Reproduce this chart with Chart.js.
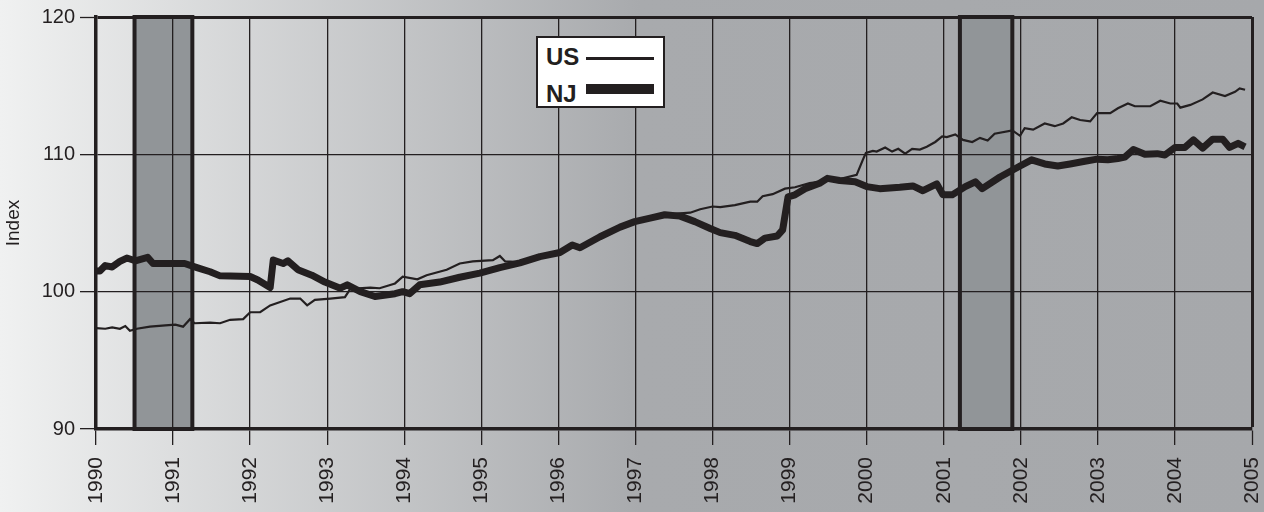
<!DOCTYPE html>
<html>
<head>
<meta charset="utf-8">
<script src="https://cdn.jsdelivr.net/npm/chart.js@4.4.1/dist/chart.umd.min.js"></script>
<style>
  html, body { margin: 0; padding: 0; }
  body {
    width: 1264px; height: 512px; overflow: hidden;
    background: linear-gradient(to right, #f0f1f1 0px, #a8aaad 640px, #a6a8ab 1264px);
    font-family: "Liberation Sans", Arial, sans-serif;
  }
  #wrap { position: relative; width: 1264px; height: 512px; }
  #legend {
    position: absolute; left: 536px; top: 36px; width: 125px; height: 68px;
    background: #ffffff; border: 2.5px solid #231f20;
  }
  #legend .lbl {
    position: absolute; left: 8px; font-weight: bold; font-size: 24px; line-height: 24px; color: #231f20;
  }
  #legend .ln { position: absolute; left: 48px; width: 68px; background: #231f20; }
</style>
</head>
<body>
<div id="wrap">
  <canvas id="myChart" width="1264" height="512"></canvas>
  <div id="legend">
    <span class="lbl" style="top:7px">US</span>
    <div class="ln" style="top:19px;height:2.5px"></div>
    <span class="lbl" style="top:44px">NJ</span>
    <div class="ln" style="top:46px;height:10px"></div>
  </div>
</div>
<script>
// index values (x = decimal year)
const usYears = [1990.00, 1990.12, 1990.21, 1990.31, 1990.38, 1990.44, 1990.53, 1990.70, 1990.90, 1991.03,
  1991.13, 1991.22, 1991.28, 1991.48, 1991.61, 1991.74, 1991.91, 1992.00, 1992.13, 1992.26,
  1992.52, 1992.65, 1992.74, 1992.84, 1993.04, 1993.23, 1993.30, 1993.56, 1993.68, 1993.88,
  1993.98, 1994.17, 1994.29, 1994.55, 1994.72, 1994.89, 1995.15, 1995.24, 1995.31, 1995.50,
  1995.76, 1996.02, 1996.18, 1996.28, 1996.54, 1996.80, 1996.99, 1997.19, 1997.38, 1997.58,
  1997.71, 1997.84, 1998.00, 1998.10, 1998.29, 1998.49, 1998.58, 1998.65, 1998.78, 1998.94,
  1999.07, 1999.26, 1999.65, 1999.87, 1999.95, 1999.99, 2000.08, 2000.13, 2000.24, 2000.33,
  2000.41, 2000.50, 2000.59, 2000.69, 2000.78, 2000.89, 2000.98, 2001.04, 2001.15, 2001.25,
  2001.37, 2001.47, 2001.57, 2001.66, 2001.89, 2001.99, 2002.05, 2002.16, 2002.31, 2002.44,
  2002.55, 2002.66, 2002.77, 2002.90, 2002.99, 2003.16, 2003.26, 2003.39, 2003.48, 2003.68,
  2003.81, 2003.94, 2004.03, 2004.07, 2004.20, 2004.36, 2004.49, 2004.65, 2004.78, 2004.84, 2004.91];
const usIndex = [97.35, 97.3, 97.4, 97.3, 97.5, 97.15, 97.3, 97.45, 97.55, 97.6,
  97.45, 98.0, 97.7, 97.75, 97.7, 97.95, 98.0, 98.5, 98.5, 99.0,
  99.5, 99.5, 99.0, 99.4, 99.5, 99.6, 100.2, 100.3, 100.25, 100.6,
  101.1, 100.9, 101.2, 101.6, 102.05, 102.2, 102.3, 102.6, 102.2, 102.15,
  102.55, 102.85, 103.4, 103.2, 104.0, 104.7, 105.1, 105.35, 105.6, 105.7,
  105.75, 106.0, 106.2, 106.15, 106.3, 106.55, 106.55, 106.95, 107.1, 107.5,
  107.6, 107.9, 108.2, 108.5, 109.6, 110.1, 110.25, 110.2, 110.5, 110.2,
  110.4, 110.05, 110.4, 110.35, 110.55, 110.9, 111.3, 111.25, 111.45, 111.05,
  110.9, 111.2, 111.0, 111.5, 111.75, 111.35, 111.9, 111.8, 112.25, 112.05,
  112.25, 112.7, 112.5, 112.4, 113.0, 113.0, 113.35, 113.7, 113.5, 113.5,
  113.9, 113.7, 113.7, 113.4, 113.6, 114.0, 114.5, 114.25, 114.55, 114.8, 114.7];

const njYears = [1990.00, 1990.05, 1990.12, 1990.21, 1990.31, 1990.40, 1990.51, 1990.67, 1990.74, 1991.15,
  1991.31, 1991.48, 1991.61, 1992.00, 1992.10, 1992.26, 1992.30, 1992.43, 1992.49, 1992.62,
  1992.80, 1992.97, 1993.17, 1993.26, 1993.43, 1993.62, 1993.88, 1993.98, 1994.07, 1994.20,
  1994.46, 1994.72, 1994.98, 1995.24, 1995.50, 1995.76, 1996.02, 1996.18, 1996.28, 1996.54,
  1996.80, 1996.99, 1997.19, 1997.38, 1997.58, 1997.77, 1997.97, 1998.10, 1998.29, 1998.49,
  1998.58, 1998.68, 1998.84, 1998.91, 1998.98, 1999.07, 1999.20, 1999.39, 1999.49, 1999.65,
  1999.85, 2000.00, 2000.17, 2000.43, 2000.60, 2000.73, 2000.91, 2000.99, 2001.11, 2001.28,
  2001.41, 2001.50, 2001.73, 2001.99, 2002.14, 2002.31, 2002.48, 2002.64, 2002.83, 2002.99,
  2003.13, 2003.26, 2003.35, 2003.46, 2003.61, 2003.77, 2003.87, 2004.00, 2004.13, 2004.24,
  2004.36, 2004.49, 2004.62, 2004.71, 2004.82, 2004.91];
const njIndex = [101.5, 101.5, 101.9, 101.8, 102.2, 102.45, 102.25, 102.5, 102.05, 102.05,
  101.75, 101.45, 101.15, 101.1, 100.85, 100.3, 102.3, 102.05, 102.25, 101.6,
  101.2, 100.7, 100.25, 100.5, 100.0, 99.65, 99.85, 100.0, 99.85, 100.5,
  100.7, 101.05, 101.35, 101.75, 102.1, 102.55, 102.85, 103.4, 103.2, 104.0,
  104.7, 105.1, 105.35, 105.6, 105.5, 105.1, 104.6, 104.3, 104.1, 103.65,
  103.5, 103.9, 104.05, 104.5, 106.9, 107.05, 107.5, 107.9, 108.25, 108.1,
  108.0, 107.65, 107.5, 107.6, 107.7, 107.35, 107.85, 107.05, 107.05, 107.65,
  108.0, 107.5, 108.35, 109.15, 109.6, 109.3, 109.15, 109.3, 109.5, 109.65,
  109.6, 109.7, 109.8, 110.35, 110.0, 110.05, 109.95, 110.5, 110.5, 111.05,
  110.45, 111.1, 111.1, 110.5, 110.8, 110.55];

// recession periods (shaded)
const recessionStart = [1990.5, 2001.21];
const recessionEnd = [1991.25, 2001.89];

const ink = "#231f20";

const toPoints = (xs, ys) => xs.map((x, i) => ({ x: x, y: ys[i] }));

const recessionBoxes = {
  id: "recessionBoxes",
  beforeDraw(chart) {
    const { ctx, scales: { x, y } } = chart;
    const top = y.getPixelForValue(120);
    const bottom = y.getPixelForValue(90);
    ctx.save();
    recessionStart.forEach((s, i) => {
      const left = x.getPixelForValue(s);
      const right = x.getPixelForValue(recessionEnd[i]);
      ctx.fillStyle = "#919598";
      ctx.fillRect(left, top, right - left, bottom - top);
      ctx.lineWidth = 4;
      ctx.strokeStyle = ink;
      ctx.strokeRect(left, top, right - left, bottom - top);
    });
    ctx.restore();
  },
};

new Chart(document.getElementById("myChart").getContext("2d"), {
  type: "line",
  data: {
    datasets: [
      {
        label: "NJ",
        data: toPoints(njYears, njIndex),
        borderColor: ink,
        borderWidth: 7,
        pointRadius: 0,
        tension: 0,
        borderJoinStyle: "round",
      },
      {
        label: "US",
        data: toPoints(usYears, usIndex),
        borderColor: ink,
        borderWidth: 2.2,
        pointRadius: 0,
        tension: 0,
      },
    ],
  },
  options: {
    responsive: false,
    animation: false,
    layout: { padding: { top: 17, right: 12, left: 0, bottom: 0 } },
    plugins: {
      legend: { display: false },
      tooltip: { enabled: false },
    },
    scales: {
      x: {
        type: "linear",
        min: 1990,
        max: 2005,
        afterFit: (scale) => {
          scale.height = 83;
          scale.paddingLeft = 0;
          scale.paddingRight = 0;
        },
        ticks: {
          stepSize: 1,
          minRotation: 90,
          maxRotation: 90,
          padding: 12,
          color: ink,
          font: { family: "'Liberation Sans', Arial", size: 21 },
          callback: (v) => String(v),
        },
        grid: {
          color: ink,
          lineWidth: (c) => (c.tick && c.tick.value === 2005 ? 3 : 1.3),
          tickWidth: 1.3,
          tickLength: 16,
        },
        border: { display: true, color: ink, width: 3.5 },
      },
      y: {
        min: 90,
        max: 120,
        afterFit: (scale) => {
          scale.width = 96;
          scale.paddingTop = 0;
          scale.paddingBottom = 0;
        },
        title: {
          display: true,
          text: "Index",
          color: ink,
          font: { family: "'Liberation Sans', Arial", size: 19 },
          padding: { top: 2, bottom: 0 },
        },
        ticks: {
          stepSize: 10,
          padding: 5,
          color: ink,
          font: { family: "'Liberation Sans', Arial", size: 20 },
        },
        grid: {
          color: ink,
          lineWidth: (c) => (c.tick && c.tick.value === 120 ? 3 : 1.3),
          tickWidth: 1.3,
          tickLength: 16,
        },
        border: { display: true, color: ink, width: 3.5 },
      },
    },
  },
  plugins: [recessionBoxes],
});
</script>
</body>
</html>
